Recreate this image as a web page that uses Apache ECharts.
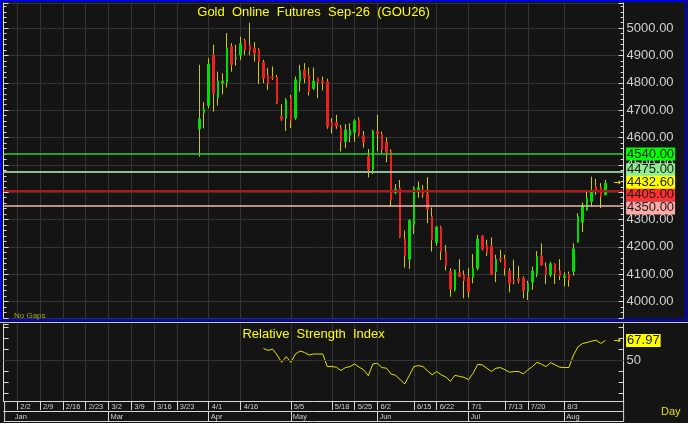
<!DOCTYPE html>
<html>
<head>
<meta charset="utf-8">
<script src="https://cdn.jsdelivr.net/npm/echarts@6/dist/echarts.min.js"></script>
<style>
html,body{margin:0;padding:0;background:#141414;}
#c{width:688px;height:423px;}
</style>
</head>
<body>
<div id="c"></div>
<script>
// ---------------- data ----------------
const slotCount = 137;          // trading-day slots on the date axis
const candleStart = 43;         // slot of the first candle
const opens  = [4632,4691,4717,4902,4746,4799,4802,4933,4888,4902,4955,4937,4927,4921,4876,4829,4822,4821,4677,4671,
                4746,4671,4805,4847,4827,4780,4817,4807,4805,4656,4654,4636,4585,4607,4619,4665,4607,4530,4482,4622,
                4613,4583,4549,4399,4415,4229,4155,4281,4409,4411,4394,4311,4216,4272,4183,4110,4043,4106,4098,4089,
                4088,4122,4240,4207,4204,4110,4157,4156,4112,4078,4083,4085,4037,4071,4100,4167,4128,4098,4138,4112,
                4088,4100,4110,4217,4290,4335,4366,4421,4417,4390];
const closes = [4668,4704,4869,4762,4807,4806,4927,4866,4892,4943,4921,4918,4908,4878,4817,4796,4817,4726,4667,4738,
                4662,4811,4844,4817,4768,4807,4802,4801,4640,4640,4642,4583,4628,4628,4661,4610,4583,4482,4624,4613,
                4555,4546,4372,4411,4235,4167,4296,4415,4417,4394,4338,4226,4272,4183,4131,4046,4114,4092,4077,4037,
                4122,4229,4192,4179,4101,4155,4152,4120,4067,4074,4077,4039,4067,4112,4165,4134,4098,4138,4104,4094,
                4094,4079,4193,4311,4350,4378,4405,4409,4384,4432.6];
const lows   = [4530,4634,4707,4695,4717,4758,4783,4841,4863,4884,4902,4902,4878,4796,4799,4774,4811,4722,4661,4624,
                4634,4665,4768,4799,4754,4774,4744,4772,4632,4615,4632,4549,4561,4583,4585,4604,4563,4454,4466,4549,
                4543,4510,4348,4393,4232,4124,4120,4248,4380,4380,4287,4183,4204,4152,4114,4018,4037,4089,4012,4015,
                4067,4114,4187,4167,4098,4071,4144,4095,4034,4064,4067,4012,4006,4043,4089,4131,4065,4089,4064,4079,
                4055,4055,4095,4216,4254,4333,4348,4390,4342,4390];
const highs  = [4866,4729,4890,4939,4841,4835,4982,4945,4939,4969,4961,5020,4949,4927,4884,4854,4860,4829,4722,4744,
                4756,4823,4866,4872,4856,4856,4819,4823,4815,4671,4683,4646,4649,4652,4667,4674,4624,4558,4628,4683,
                4622,4600,4557,4430,4445,4260,4301,4421,4439,4427,4455,4344,4277,4277,4207,4122,4118,4155,4114,4122,
                4174,4244,4243,4226,4235,4171,4189,4171,4122,4153,4131,4092,4076,4128,4185,4213,4143,4146,4140,4155,
                4107,4110,4213,4323,4363,4405,4457,4449,4433,4445];
const rsiStart = 57;            // slot of the first RSI value
const rsi = [60.8,59.0,60.2,54.8,48.2,53.3,48.2,55.7,58.4,57.2,
             54.8,55.7,55.7,55.7,44.3,44.3,43.7,40.7,43.4,44.3,
             46.7,43.7,41.3,36.0,46.7,47.3,43.4,42.8,37.5,36.3,
             32.4,28.5,36.3,44.3,45.2,44.3,40.4,36.8,39.8,36.8,
             34.8,30.9,36.3,35.4,34.5,32.4,38.3,46.4,45.8,42.8,
             39.8,42.8,43.4,41.3,39.2,39.8,39.8,37.7,41.3,44.3,
             48.2,46.4,44.3,47.9,45.8,43.7,43.4,43.4,54.8,62.3,
             65.3,66.2,67.4,68.3,65.3,67.97];
const weekTicks = [[3,'2/2'],[8,'2/9'],[13,'2/16'],[18,'2/23'],[23,'3/2'],[28,'3/9'],[33,'3/16'],[38,'3/23'],
                   [45,'4/1'],[52,'4/16'],[63,'5/5'],[72,'5/18'],[77,'5/25'],[82,'6/2'],[90,'6/15'],[95,'6/22'],
                   [102,'7/1'],[110,'7/13'],[115,'7/20'],[123,'8/3']];
const monthTicks = [[2,'Jan'],[23,'Mar'],[45,'Apr'],[63,'May'],[82,'Jun'],[102,'Jul'],[123,'Aug']];
const priceLevels = [4540, 4475, 4405, 4350];
const lastPrice = 4432.60;
const rsiLast = 67.97;
const rsiMid = 50;
const titleText = 'Gold  Online  Futures  Sep-26  (GOU26)';
const rsiTitle = 'Relative  Strength  Index';

// ---------------- styles ----------------
const FONT = 'Liberation Sans, Arial, sans-serif';
const gridColor = '#333333';
const axisColor = '#d8d8d8';
const textGray = '#d0d0d0';
const yellow = '#ffff00';
const levelStyle = [
  {line:'#2ecc2e', bg:'#00ff00', shift:0,  w:1.5},
  {line:'#8fbf8f', bg:'#90ee90', shift:-2, w:2},
  {line:'#b01818', bg:'#ff3030', shift:4,  w:2},
  {line:'#f0b8a8', bg:'#ffaaaa', shift:2,  w:1.5}
];
const G = {left:3.6, right:64.4};

// ---------------- build ----------------
const cats = Array.from({length: slotCount}, (_, i) => 's' + i);
const weekMap = new Map(weekTicks);
const monthMap = new Map(monthTicks);
const monthSep = new Set(monthTicks.map(m => m[0]).filter(i => i > 5));

const wickData = cats.map((_, i) => {
  const k = i - candleStart;
  return (k >= 0 && k < opens.length) ? [opens[k], closes[k], lows[k], highs[k]] : '-';
});
const bodyData = cats.map((_, i) => {
  const k = i - candleStart;
  if (k < 0 || k >= opens.length) return '-';
  const o = opens[k], c = closes[k];
  return [o, c, Math.min(o, c), Math.max(o, c)];
});
const rsiData = cats.map((_, i) => {
  const k = i - rsiStart;
  return (k >= 0 && k < rsi.length) ? rsi[k] : '-';
});

const chart = echarts.init(document.getElementById('c'), null, {renderer: 'canvas', width: 688, height: 423});

const yTickCommon = {
  axisLine: {show: true, lineStyle: {color: axisColor, width: 1}},
  axisTick: {show: true, inside: true, length: 5, lineStyle: {color: axisColor}},
};

chart.setOption({
  backgroundColor: '#141414',
  animation: false,
  textStyle: {fontFamily: FONT},
  grid: [
    {left: G.left, right: G.right, top: 3, height: 315},
    {left: G.left, right: G.right, top: 324, height: 77}
  ],
  xAxis: [
    {gridIndex: 0, type: 'category', data: cats, boundaryGap: false,
     axisLine: {show: false}, axisTick: {show: false}, axisLabel: {show: false},
     splitLine: {show: true, interval: (i) => weekMap.has(i), lineStyle: {color: gridColor}}},
    {gridIndex: 1, type: 'category', data: cats, boundaryGap: false,
     axisLine: {show: true, lineStyle: {color: axisColor}},
     axisTick: {show: true, interval: (i) => weekMap.has(i), length: 9, lineStyle: {color: axisColor}},
     axisLabel: {show: true, interval: (i) => weekMap.has(i), formatter: (v, i) => weekMap.get(i) || '',
                 align: 'left', padding: [0, 0, 0, 3], margin: 2, color: textGray, fontSize: 7.5, fontFamily: FONT},
     splitLine: {show: true, interval: (i) => weekMap.has(i), lineStyle: {color: gridColor}}},
    {gridIndex: 1, type: 'category', data: cats, boundaryGap: false, position: 'bottom', offset: 10,
     axisLine: {show: true, lineStyle: {color: axisColor}},
     axisTick: {show: true, interval: (i) => monthSep.has(i), length: 10, lineStyle: {color: axisColor}},
     axisLabel: {show: true, interval: (i) => monthMap.has(i), formatter: (v, i) => monthMap.get(i) || '',
                 align: 'left', padding: [0, 0, 0, 2], margin: 2, color: textGray, fontSize: 7.5, fontFamily: FONT},
     splitLine: {show: false}}
  ],
  yAxis: [
    Object.assign({gridIndex: 0, type: 'value', position: 'right', min: 3940, max: 5092, splitNumber: 11,
     minorTick: {show: true, splitNumber: 5, length: 3, lineStyle: {color: axisColor}},
     axisLabel: {formatter: (v) => v.toFixed(2), showMinLabel: false, showMaxLabel: false,
                 color: textGray, fontSize: 13, margin: 3, fontFamily: FONT},
     splitLine: {show: true, lineStyle: {color: gridColor}}}, yTickCommon),
    Object.assign({gridIndex: 0, type: 'value', position: 'left', min: 3940, max: 5092, splitNumber: 11,
     minorTick: {show: true, splitNumber: 5, length: 3, lineStyle: {color: axisColor}},
     axisLabel: {show: false}, splitLine: {show: false}}, yTickCommon),
    Object.assign({gridIndex: 1, type: 'value', position: 'right', min: 13, max: 83, splitNumber: 7,
     axisLabel: {formatter: (v) => (v === rsiMid ? String(rsiMid) : ''), showMinLabel: false, showMaxLabel: false,
                 color: textGray, fontSize: 13, margin: 3, fontFamily: FONT},
     splitLine: {show: false}}, yTickCommon),
    Object.assign({gridIndex: 1, type: 'value', position: 'left', min: 13, max: 83, splitNumber: 7,
     axisLabel: {show: false}, splitLine: {show: false}}, yTickCommon)
  ],
  series: [
    {name: 'wick', type: 'candlestick', xAxisIndex: 0, yAxisIndex: 0, data: wickData, barWidth: 1, z: 2,
     itemStyle: {color: '#cccc00', color0: '#cccc00', borderColor: '#cccc00', borderColor0: '#cccc00',
                 borderColorDoji: '#cccc00', borderWidth: 1}},
    {name: 'body', type: 'candlestick', xAxisIndex: 0, yAxisIndex: 0, data: bodyData, barWidth: 2, z: 3,
     itemStyle: {color: '#00dd00', color0: '#ee2020', borderColor: '#00dd00', borderColor0: '#ee2020',
                 borderColorDoji: '#ee2020', borderWidth: 1},
     markLine: {silent: true, symbol: ['none', 'none'], animation: false, label: {show: false},
       data: priceLevels.map((v, k) => ({yAxis: v, lineStyle: {color: levelStyle[k].line, width: levelStyle[k].w, type: 'solid'}}))}},
    {name: 'RSI', type: 'line', xAxisIndex: 1, yAxisIndex: 2, data: rsiData, showSymbol: false, z: 3,
     lineStyle: {color: '#e4e400', width: 1}, itemStyle: {color: '#e4e400'},
     markLine: {silent: true, symbol: ['none', 'none'], animation: false, label: {show: false},
       data: [{yAxis: rsiMid, lineStyle: {color: gridColor, width: 1, type: 'solid'}}]}}
  ]
});

// ---------------- labels placed through the axes ----------------
const yP = (v) => chart.convertToPixel({yAxisIndex: 0}, v);
const yR = (v) => chart.convertToPixel({yAxisIndex: 2}, v);
const xRightEdge = 688 - G.right;
const boxX = xRightEdge + 2.5;
const midX = (G.left + xRightEdge) / 2;
const boxStyle = (text, bg) => ({text: text, fill: '#1a1a1a', backgroundColor: bg, padding: [1, 1, 0, 1],
                                 font: '13px ' + FONT, verticalAlign: 'middle', lineHeight: 12});

const gfx = [];
gfx.push({type: 'rect', z: 50, shape: {x: 1, y: 1, width: 685, height: 319},
          style: {fill: 'none', stroke: '#0000dd', lineWidth: 2}});
gfx.push({type: 'line', z: 50, shape: {x1: 0, y1: 322.5, x2: 688, y2: 322.5}, style: {stroke: '#c8c8c8', lineWidth: 1}});
gfx.push({type: 'line', z: 50, shape: {x1: G.left, y1: 421.5, x2: xRightEdge, y2: 421.5}, style: {stroke: axisColor, lineWidth: 1}});
gfx.push({type: 'line', z: 50, shape: {x1: xRightEdge, y1: 401, x2: xRightEdge, y2: 421.5}, style: {stroke: axisColor, lineWidth: 1}});
gfx.push({type: 'line', z: 50, shape: {x1: G.left + 1, y1: 401, x2: G.left + 1, y2: 421.5}, style: {stroke: axisColor, lineWidth: 1}});

priceLevels.forEach((v, k) => {
  gfx.push({type: 'text', z: 60, x: boxX, y: yP(v) + levelStyle[k].shift, style: boxStyle(v.toFixed(2), levelStyle[k].bg)});
});
gfx.push({type: 'text', z: 61, x: boxX, y: yP(lastPrice) - 1, style: boxStyle(lastPrice.toFixed(2), yellow)});
gfx.push({type: 'text', z: 61, x: xRightEdge - 10, y: yP(lastPrice) - 1,
          style: {text: '→', fill: yellow, font: '9px DejaVu Sans', verticalAlign: 'middle'}});
gfx.push({type: 'text', z: 61, x: boxX, y: yR(rsiLast), style: boxStyle(rsiLast.toFixed(2), yellow)});
gfx.push({type: 'text', z: 61, x: xRightEdge - 10, y: yR(rsiLast),
          style: {text: '→', fill: yellow, font: '9px DejaVu Sans', verticalAlign: 'middle'}});

gfx.push({type: 'text', z: 60, x: midX, y: 12, style: {text: titleText, fill: yellow, font: '13px ' + FONT,
          align: 'center', verticalAlign: 'middle'}});
gfx.push({type: 'text', z: 60, x: midX, y: 334, style: {text: rsiTitle, fill: yellow, font: '13px ' + FONT,
          align: 'center', verticalAlign: 'middle'}});
gfx.push({type: 'text', z: 60, x: 14, y: 316, style: {text: 'No Gaps', fill: '#a8a800', font: '8px ' + FONT,
          verticalAlign: 'middle'}});
gfx.push({type: 'text', z: 60, x: 661, y: 412, style: {text: 'Day', fill: '#e0e000', font: '11px ' + FONT,
          verticalAlign: 'middle'}});

chart.setOption({graphic: gfx});
</script>
</body>
</html>
